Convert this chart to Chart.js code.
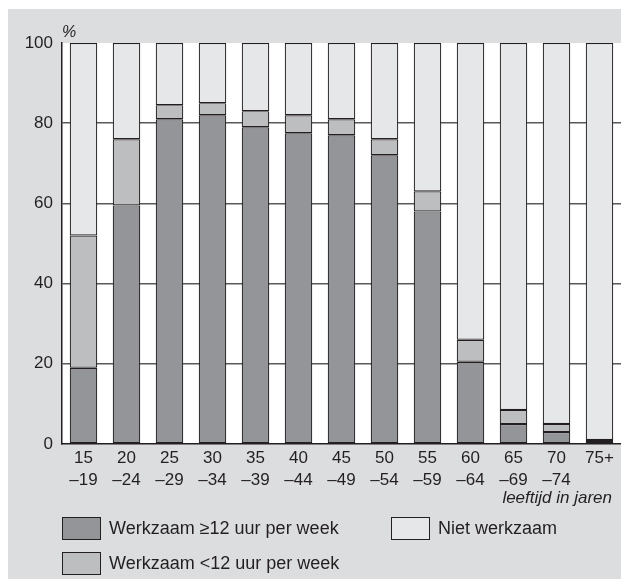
<!DOCTYPE html>
<html>
<head>
<meta charset="utf-8">
<script src="https://cdn.jsdelivr.net/npm/chart.js@4/dist/chart.umd.min.js"></script>
<style>
    body { margin: 0; background: #ffffff; font-family: "Liberation Sans", Arial, sans-serif; color: #231f20; }
    #wrap { position: relative; width: 621px; height: 579px; overflow: hidden; }
    #panel { position: absolute; left: 8px; top: 9px; right: 0; bottom: 0; background: #dcdddf; }
    #chart { position: absolute; left: 0; top: 0; }
    .txt { position: absolute; font-size: 17px; white-space: nowrap; line-height: 1; }
    .leg { font-size: 18px; }
    .box { position: absolute; width: 37px; height: 21px; border: 1px solid #231f20; }
</style>
</head>
<body>
<div id="wrap">
    <div id="panel"></div>
    <canvas id="chart" width="621" height="579"></canvas>
    <div class="txt" style="left:62px; top:24px; font-style:italic; font-size:16px;">%</div>
    <div class="txt" style="right:9px; top:489px; font-style:italic;">leeftijd in jaren</div>

    <div class="box" style="left:62px; top:517px; background:#939598;"></div>
    <div class="txt leg" style="left:109px; top:519px;">Werkzaam ≥12 uur per week</div>
    <div class="box" style="left:391px; top:517px; background:#e6e7e8;"></div>
    <div class="txt leg" style="left:438px; top:519px;">Niet werkzaam</div>
    <div class="box" style="left:62px; top:552px; background:#bcbec0;"></div>
    <div class="txt leg" style="left:109px; top:554px;">Werkzaam &lt;12 uur per week</div>
</div>
<script>
// Age groups (two-line tick labels)
const ageGroups = [
    ['15', '–19'], ['20', '–24'], ['25', '–29'], ['30', '–34'], ['35', '–39'],
    ['40', '–44'], ['45', '–49'], ['50', '–54'], ['55', '–59'], ['60', '–64'],
    ['65', '–69'], ['70', '–74'], ['75+']
];

// Percentages
const werkzaamMeer12 = [19, 59.5, 81, 82, 79, 77.5, 77, 72, 58, 20.5, 5, 3, 0.5];
const werkzaamMinder12 = [33, 16.5, 3.5, 3, 4, 4.5, 4, 4, 5, 5.5, 3.5, 2, 0.5];
const nietWerkzaam = [48, 24, 15.5, 15, 17, 18, 19, 24, 37, 74, 91.5, 95, 99];

const yTicks = [0, 20, 40, 60, 80, 100];

const ink = '#231f20';

// white plot area behind the grid
const plotBackground = {
    id: 'plotBackground',
    beforeDraw(chart) {
        const { ctx, chartArea } = chart;
        ctx.save();
        ctx.fillStyle = '#ffffff';
        ctx.fillRect(chartArea.left, chartArea.top, chartArea.right - chartArea.left, chartArea.bottom - chartArea.top);
        ctx.restore();
    }
};

const ctx = document.getElementById('chart').getContext('2d');
new Chart(ctx, {
    type: 'bar',
    data: {
        labels: ageGroups,
        datasets: [
            { label: 'Werkzaam ≥12 uur per week', data: werkzaamMeer12, backgroundColor: '#939598' },
            { label: 'Werkzaam <12 uur per week', data: werkzaamMinder12, backgroundColor: '#bcbec0' },
            { label: 'Niet werkzaam', data: nietWerkzaam, backgroundColor: '#e6e7e8' }
        ].map(ds => Object.assign(ds, {
            borderColor: ink,
            borderWidth: 1.2,
            borderSkipped: false,
            categoryPercentage: 1,
            barPercentage: 0.64
        }))
    },
    options: {
        responsive: false,
        animation: false,
        layout: { padding: { top: 43, right: 0, bottom: 0, left: 0 } },
        plugins: { legend: { display: false }, tooltip: { enabled: false } },
        scales: {
            x: {
                stacked: true,
                grid: { display: false, drawTicks: false },
                border: { color: ink, width: 1.5 },
                ticks: {
                    color: ink,
                    font: { family: '"Liberation Sans", Arial, sans-serif', size: 17, lineHeight: 1.3 },
                    padding: 3,
                    maxRotation: 0,
                    autoSkip: false
                },
                afterFit: scale => { scale.height = 135; }
            },
            y: {
                stacked: true,
                min: 0,
                max: 100,
                afterBuildTicks: scale => { scale.ticks = yTicks.map(v => ({ value: v })); },
                grid: {
                    drawTicks: false,
                    color: c => (c.tick.value === 0 || c.tick.value === 100) ? 'rgba(0,0,0,0)' : '#58595b',
                    lineWidth: 1.5
                },
                border: { color: ink, width: 1.5 },
                ticks: {
                    color: ink,
                    font: { family: '"Liberation Sans", Arial, sans-serif', size: 17 },
                    padding: 9
                },
                afterFit: scale => { scale.width = 62; }
            }
        }
    },
    plugins: [plotBackground]
});
</script>
</body>
</html>
